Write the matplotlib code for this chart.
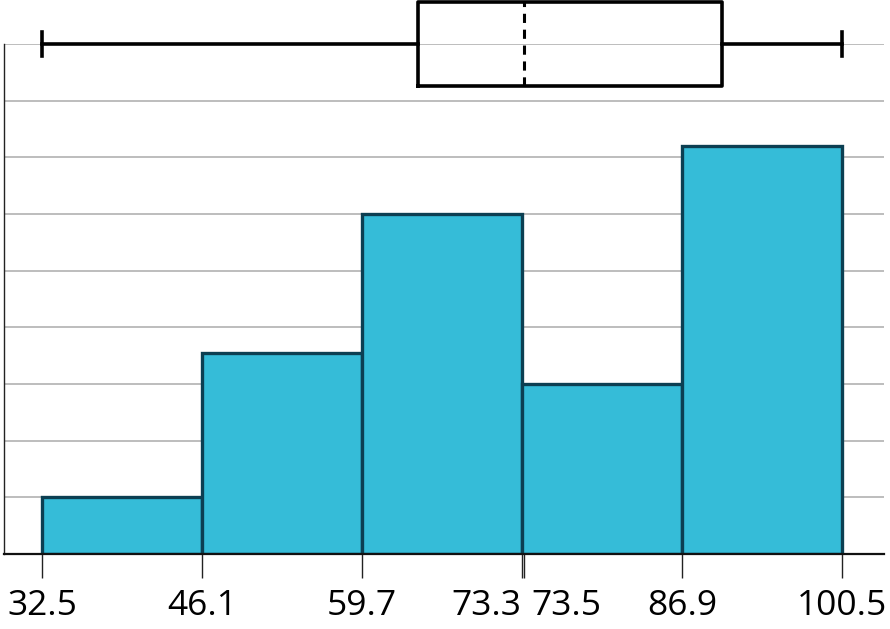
import matplotlib
matplotlib.use('Agg')
import matplotlib.pyplot as plt
import matplotlib.transforms as mtransforms
import numpy as np

plt.rcParams['font.family'] = ['Open Sans', 'DejaVu Sans']

# histogram bins and heights (grid units)
bin_edges = [32.5, 46.1, 59.7, 73.3, 86.9, 100.5]
counts = [1.0, 3.55, 6.0, 3.0, 7.2]

# five-number summary for the box plot
box_min = 32.5
box_q1 = 64.5
box_med = 73.5
box_q3 = 90.3
box_max = 100.5

tick_vals = [32.5, 46.1, 59.7, 73.3, 73.5, 86.9, 100.5]
tick_labels = ['32.5', '46.1', '59.7', '73.3', '73.5', '86.9', '100.5']

fig = plt.figure(figsize=(8.9, 6.29), dpi=100)
ax = fig.add_axes([0.0045, 0.119, 0.9888, 0.811])

ax.set_xlim(29.27, 104.07)
ax.set_ylim(0, 9)

# grid
ax.set_yticks(np.arange(1, 10))
ax.yaxis.grid(True, color='#bdbdbd', linewidth=1.4, zorder=0)
ax.set_axisbelow(True)
ax.tick_params(axis='y', left=False, labelleft=False)

widths = np.diff(bin_edges)
ax.bar(bin_edges[:-1], counts, width=widths, align='edge',
       color='#35bcd8', edgecolor='#0c3f52', linewidth=2.4, zorder=2)

# box plot on top
stats = [{'med': box_med, 'q1': box_q1, 'q3': box_q3,
          'whislo': box_min, 'whishi': box_max, 'fliers': []}]
arts = ax.bxp(stats, positions=[9], widths=1.48, vert=False,
              capwidths=0.42, showfliers=False, patch_artist=False,
              boxprops=dict(color='black', linewidth=2.6),
              whiskerprops=dict(color='black', linewidth=2.6),
              capprops=dict(color='black', linewidth=2.6),
              medianprops=dict(color='black', linewidth=2.2, linestyle=(0, (3, 2.2))),
              manage_ticks=False)
for key in arts:
    for a in arts[key]:
        a.set_clip_on(False)
        a.set_zorder(5)

# spines
for s in ['top', 'right']:
    ax.spines[s].set_visible(False)
ax.spines['left'].set_color('#222222')
ax.spines['left'].set_linewidth(1.0)
ax.spines['bottom'].set_color('#111111')
ax.spines['bottom'].set_linewidth(1.6)
ax.spines['bottom'].set_zorder(3)

ax.set_xticks(tick_vals)
ax.set_xticklabels(tick_labels, fontsize=25.5)
ax.tick_params(axis='x', length=17, width=1.0, color='#222222', pad=8)

# the two close labels: push them apart a little
lbls = ax.get_xticklabels()
lbls[3].set_horizontalalignment('right')
lbls[3].set_transform(lbls[3].get_transform() +
                      mtransforms.ScaledTranslation(-1 / 100, 0, fig.dpi_scale_trans))
lbls[4].set_horizontalalignment('left')
lbls[4].set_transform(lbls[4].get_transform() +
                      mtransforms.ScaledTranslation(7 / 100, 0, fig.dpi_scale_trans))

fig.savefig('out.png', dpi=100)
